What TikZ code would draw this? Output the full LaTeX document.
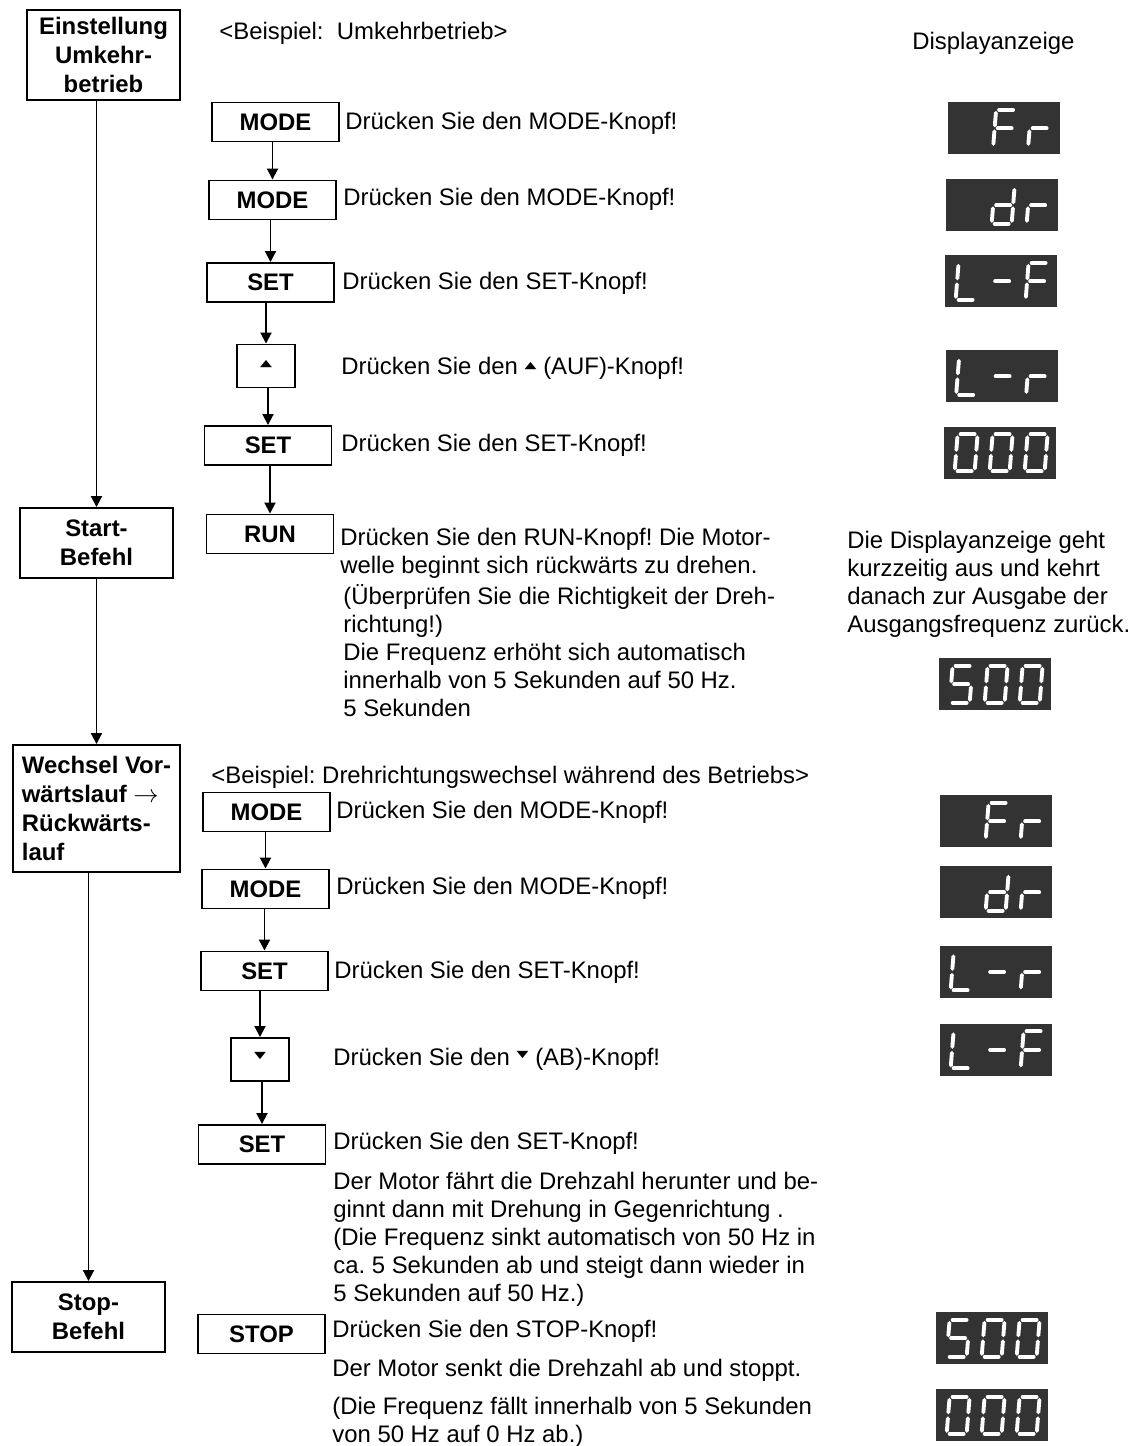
\documentclass[tikz,border=0pt]{standalone}
\usepackage{fontspec}
\setmainfont{Liberation Sans}
\newfontfamily\symfont{DejaVu Sans}
\frenchspacing
\usepackage{tikz}
\usetikzlibrary{arrows.meta, calc}
\tikzset{
  stepbox/.style={draw, line width=1.1pt, rectangle, minimum width=3.06cm, minimum height=1.4cm, align=center, font=\fontsize{13.6}{16.5}\selectfont\bfseries},
  key/.style={draw, line width=1.1pt, rectangle, minimum width=2.54cm, minimum height=0.78cm, inner sep=0pt, font=\fontsize{13.6}{15.9}\selectfont\bfseries},
  arrowkey/.style={key, minimum width=1.16cm, minimum height=0.86cm},
  txt/.style={anchor=base west, inner sep=0pt, align=left, font=\fontsize{13.6}{15.9}\selectfont},
  lcd/.style={rectangle, fill=black!80, minimum width=2.24cm, minimum height=1.04cm, inner sep=0pt},
  seg/.style={draw=white, line width=2.2pt, line cap=round},
  flow/.style={line width=1.1pt, -{Triangle[length=2.2mm, width=2.2mm]}}
}
\newcommand{\upsym}{\raisebox{0.4ex}{\scalebox{0.65}[0.4]{\symfont ▲}}}
\newcommand{\downsym}{\raisebox{0.6ex}{\scalebox{0.65}[0.4]{\symfont ▼}}}
\def\sga{(0.06,0.74)--(0.34,0.74)}
\def\sgb{(0.40,0.68)--(0.40,0.43)}
\def\sgc{(0.40,0.31)--(0.40,0.06)}
\def\sgd{(0.06,0)--(0.34,0)}
\def\sge{(0,0.06)--(0,0.31)}
\def\sgf{(0,0.43)--(0,0.68)}
\def\sgg{(0.06,0.37)--(0.34,0.37)}
\newcommand{\segdigit}[3]{%
  \if\relax\detokenize{#3}\relax\else
    \begin{scope}[shift={($(#1.south west)+(#2,0.15)$)}, xslant=0.08]
      \foreach \s in {#3} {\draw[seg] \csname sg\s\endcsname;}
    \end{scope}%
  \fi}
\newcommand{\lcdshow}[4]{\segdigit{#1}{0.22}{#2}\segdigit{#1}{0.92}{#3}\segdigit{#1}{1.62}{#4}}

\begin{document}
\begin{tikzpicture}
  \useasboundingbox (0,0) rectangle (22.76,-28.92);

  \node[stepbox, minimum height=1.8cm] (einst) at (2.07,-1.10) {Einstellung\\Umkehr-\\betrieb};
  \node[stepbox] (start) at (1.93,-10.86) {Start-\\Befehl};
  \node[stepbox, minimum width=3.34cm, minimum height=2.54cm, align=left] (wechsel) at (1.93,-16.17) {Wechsel Vor-\\wärtslauf $\rightarrow$\\Rückwärts-\\lauf};
  \node[stepbox] (stopb) at (1.77,-26.34) {Stop-\\Befehl};

  \draw[flow] (start.north |- einst.south) -- (start.north);
  \draw[flow] (wechsel.north |- start.south) -- (wechsel.north);
  \draw[flow] (stopb.north |- wechsel.south) -- (stopb.north);

  \node[txt] (head1) at (4.38,-0.78) {<Beispiel:~~Umkehrbetrieb>};
  \node[txt] (disphead) at (18.24,-0.98) {Displayanzeige};

  \node[key] (k1) at (5.51,-2.44) {MODE};
  \node[key] (k2) at (5.45,-4.00) {MODE};
  \node[key] (k3) at (5.41,-5.65) {SET};
  \node[arrowkey] (k4) at (5.32,-7.32) {\upsym};
  \node[key] (k5) at (5.36,-8.91) {SET};
  \node[key] (k6) at (5.40,-10.68) {RUN};

  \draw[flow] (k2.north |- k1.south) -- (k2.north);
  \draw[flow] (k3.north |- k2.south) -- (k3.north);
  \draw[flow] (k4.north |- k3.south) -- (k4.north);
  \draw[flow] (k5.north |- k4.south) -- (k5.north);
  \draw[flow] (k6.north |- k5.south) -- (k6.north);

  \node[txt] (t1) at (6.90,-2.58) {Drücken Sie den MODE-Knopf!};
  \node[txt] (t2) at (6.86,-4.10) {Drücken Sie den MODE-Knopf!};
  \node[txt] (t3) at (6.84,-5.78) {Drücken Sie den SET-Knopf!};
  \node[txt] (t4) at (6.82,-7.48) {Drücken Sie den \upsym\ (AUF)-Knopf!};
  \node[txt] (t5) at (6.82,-9.02) {Drücken Sie den SET-Knopf!};
  \node[txt] (t6) at (6.80,-11.46) {Drücken Sie den RUN-Knopf! Die Motor-\\welle beginnt sich rückwärts zu drehen.};
  \node[txt] (t7) at (6.86,-14.32) {(Überprüfen Sie die Richtigkeit der Dreh-\\richtung!)\\Die Frequenz erhöht sich automatisch\\innerhalb von 5 Sekunden auf 50 Hz.\\5 Sekunden};
  \node[txt] (note) at (16.94,-12.64) {Die Displayanzeige geht\\kurzzeitig aus und kehrt\\danach zur Ausgabe der\\Ausgangsfrequenz zurück.};

  \node[txt] (head2) at (4.22,-15.66) {<Beispiel: Drehrichtungswechsel während des Betriebs>};

  \node[key] (k7) at (5.33,-16.24) {MODE};
  \node[key] (k8) at (5.31,-17.78) {MODE};
  \node[key] (k9) at (5.29,-19.42) {SET};
  \node[arrowkey] (k10) at (5.20,-21.19) {\downsym};
  \node[key] (k11) at (5.24,-22.89) {SET};
  \node[key] (k12) at (5.23,-26.68) {STOP};

  \draw[flow] (k8.north |- k7.south) -- (k8.north);
  \draw[flow] (k9.north |- k8.south) -- (k9.north);
  \draw[flow] (k10.north |- k9.south) -- (k10.north);
  \draw[flow] (k11.north |- k10.south) -- (k11.north);

  \node[txt] (t8) at (6.72,-16.36) {Drücken Sie den MODE-Knopf!};
  \node[txt] (t9) at (6.72,-17.88) {Drücken Sie den MODE-Knopf!};
  \node[txt] (t10) at (6.68,-19.56) {Drücken Sie den SET-Knopf!};
  \node[txt] (t11) at (6.66,-21.30) {Drücken Sie den \downsym\ (AB)-Knopf!};
  \node[txt] (t12) at (6.66,-22.98) {Drücken Sie den SET-Knopf!};
  \node[txt] (t13) at (6.66,-26.02) {Der Motor fährt die Drehzahl herunter und be-\\ginnt dann mit Drehung in Gegenrichtung .\\(Die Frequenz sinkt automatisch von 50 Hz in\\ca. 5 Sekunden ab und steigt dann wieder in\\5 Sekunden auf 50 Hz.)};
  \node[txt] (t14) at (6.64,-26.74) {Drücken Sie den STOP-Knopf!};
  \node[txt] (t15) at (6.64,-27.52) {Der Motor senkt die Drehzahl ab und stoppt.};
  \node[txt] (t16) at (6.64,-28.84) {(Die Frequenz fällt innerhalb von 5 Sekunden\\von 50 Hz auf 0 Hz ab.)};

  \node[lcd] (d1) at (20.07,-2.56) {};
  \node[lcd] (d2) at (20.04,-4.10) {};
  \node[lcd] (d3) at (20.02,-5.62) {};
  \node[lcd] (d4) at (20.03,-7.52) {};
  \node[lcd] (d5) at (20.00,-9.05) {};
  \node[lcd] (d6) at (19.90,-13.68) {};
  \node[lcd] (d7) at (19.92,-16.42) {};
  \node[lcd] (d8) at (19.92,-17.84) {};
  \node[lcd] (d9) at (19.92,-19.43) {};
  \node[lcd] (d10) at (19.92,-20.99) {};
  \node[lcd] (d11) at (19.84,-26.76) {};
  \node[lcd] (d12) at (19.84,-28.30) {};

  \lcdshow{d1}{}{a,f,g,e}{e,g}
  \lcdshow{d2}{}{b,c,d,e,g}{e,g}
  \lcdshow{d3}{f,e,d}{g}{a,f,g,e}
  \lcdshow{d4}{f,e,d}{g}{e,g}
  \lcdshow{d5}{a,b,c,d,e,f}{a,b,c,d,e,f}{a,b,c,d,e,f}
  \lcdshow{d6}{a,f,g,c,d}{a,b,c,d,e,f}{a,b,c,d,e,f}
  \lcdshow{d7}{}{a,f,g,e}{e,g}
  \lcdshow{d8}{}{b,c,d,e,g}{e,g}
  \lcdshow{d9}{f,e,d}{g}{e,g}
  \lcdshow{d10}{f,e,d}{g}{a,f,g,e}
  \lcdshow{d11}{a,f,g,c,d}{a,b,c,d,e,f}{a,b,c,d,e,f}
  \lcdshow{d12}{a,b,c,d,e,f}{a,b,c,d,e,f}{a,b,c,d,e,f}
\end{tikzpicture}
\end{document}
